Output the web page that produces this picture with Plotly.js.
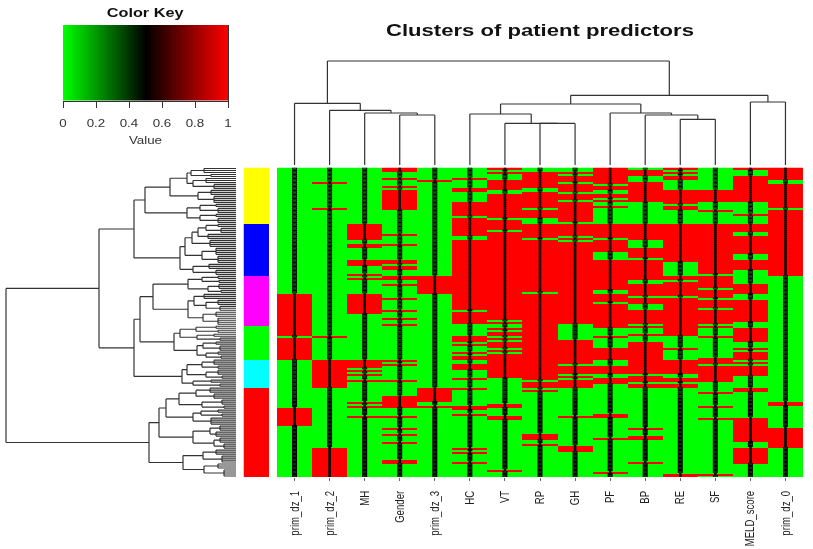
<!DOCTYPE html>
<html>
<head>
<meta charset="utf-8">
<script src="https://cdn.plot.ly/plotly-3.0.1.min.js"></script>
<style>
html,body{margin:0;padding:0;background:#fff;overflow:hidden}
#chart{width:813px;height:549px;filter:blur(0.4px)}
</style>
</head>
<body>
<div id="chart"></div>
<script>
// Number of patients (rows) and predictors (columns), top to bottom, left to right
const rowCount = 155;
const predictors = ['prim_dz_1','prim_dz_2','MH','Gender','prim_dz_3','HC','VT','RP','GH','PF','BP','RE','SF','MELD_score','prim_dz_0'];

// Each predictor: the [first,last) patient rows whose value is 1 (red); every other row is 0 (green)
const prim_dz_1 = [[63,84],[85,96],[120,129]];
const prim_dz_2 = [[7,8],[20,21],[84,85],[96,110],[140,155]];
const MH = [[28,36],[38,40],[46,49],[53,54],[55,56],[63,73],[96,100],[101,102],[103,104],[106,107],[117,118],[119,120],[124,125]];
const Gender = [[0,2],[5,6],[9,10],[11,21],[33,34],[38,39],[46,48],[49,51],[54,56],[58,59],[65,66],[71,72],[75,76],[78,79],[96,97],[98,99],[106,107],[114,120],[124,125],[130,131],[133,134],[137,138],[146,148]];
const prim_dz_3 = [[6,7],[54,63],[110,117],[119,120]];
const HC = [[5,6],[10,12],[17,24],[25,34],[36,71],[72,78],[84,87],[88,89],[92,93],[94,96],[98,101],[105,106],[110,111],[119,121],[123,124],[140,141],[142,143],[147,148]];
const VT = [[0,1],[2,3],[6,11],[13,25],[26,31],[32,76],[77,78],[80,81],[82,84],[85,86],[87,90],[91,92],[93,105],[118,120],[124,126],[151,152]];
const RP = [[2,10],[12,20],[21,25],[28,35],[36,62],[63,106],[107,110],[111,112],[133,136],[138,139]];
const GH = [[2,3],[4,7],[8,12],[13,16],[17,27],[28,34],[35,36],[37,78],[86,98],[99,103],[104,105],[106,110],[124,125],[139,142]];
const PF = [[0,8],[9,11],[13,15],[16,17],[19,20],[28,35],[36,42],[46,61],[63,67],[68,80],[84,85],[90,96],[99,103],[105,108],[123,125],[135,136],[152,153]];
const BP = [[1,4],[7,17],[28,36],[40,45],[46,56],[58,64],[65,68],[71,78],[79,80],[83,84],[87,103],[104,107],[108,110],[130,131],[134,136],[147,148]];
const RE = [[0,1],[2,3],[4,6],[11,18],[19,21],[28,47],[54,56],[57,64],[65,84],[90,91],[96,103],[105,107],[108,110],[153,155]];
const SF = [[11,17],[21,22],[28,53],[54,60],[61,65],[66,70],[71,78],[79,80],[84,85],[95,98],[99,107],[112,113],[119,120],[125,126],[153,154]];
const MELD_score = [[0,1],[4,17],[23,24],[28,32],[34,43],[46,51],[58,63],[66,77],[80,87],[90,91],[92,96],[97,98],[99,104],[110,112],[125,137],[140,148]];
const prim_dz_0 = [[0,6],[8,20],[21,54],[117,119],[130,140]];
const redRuns = [prim_dz_1,prim_dz_2,MH,Gender,prim_dz_3,HC,VT,RP,GH,PF,BP,RE,SF,MELD_score,prim_dz_0];

// Patient clusters down the side bar
const clusterSizes = [28,26,25,17,14,45];
const clusterColors = ['#ffff00','#0000ff','#ff00ff','#00ff00','#00ffff','#ff0000'];

// Dendrograms: [merge height, child, child]; a number child is that many leaves hanging from the node
const yellowTree = [91,[66,[49,[45,[32,3],[25,2]],[43,[30,3],[22,3]]],[38,[25,3],[22,4]]],[49,[36,[20,2],[18,3]],[36,[20,2],[18,3]]]];
const blueTree = [56,[51,[44,[38,[30,[18,2],[15,3]],[28,3]],[26,4]],[34,[20,4],[18,4]]],[43,[27,3],[20,3]]];
const magentaTree = [83,[48,[34,[18,2],[17,2]],[28,[17,3],[15,2]]],[48,[42,[32,3],[30,[18,3],[16,3]]],[33,[20,3],[18,4]]]];
const greenTree = [62,[56,[40,[20,2],[18,2]],[39,[22,2],[16,2]]],[39,[33,[20,2],[16,3]],[30,[18,2],[15,2]]]];
const cyanTree = [54,[49,[34,[22,3],[18,2]],[30,[18,3],[14,2]]],[43,[25,2],[16,2]]];
const redTree = [87,[77,[70,[57,[40,[26,3],[22,3]],[34,[14,3],[12,2]]],[43,[35,[18,2],[14,2]],[25,4]]],[43,[26,[16,3],[20,3]],[22,[16,3],[12,3]]]],[53,[33,[20,3],[14,4]],[32,[18,3],[12,4]]]];
const rowTree = [230,[137,[102,yellowTree,blueTree],[102,[96,magentaTree,greenTree],cyanTree]],redTree];
const columnTree = [104,[61.7,1,[54.7,1,[52,1,[50,1,1]]]],[69.7,[61,[51,1,[41.7,1,[41.6,1,1]]],[52,1,[50,1,[45.7,1,1]]]],[63,1,1]]];

// Colour key
const keyTicks = [0,0.2,0.4,0.6,0.8,1];
const keyTickText = ['0','0.2','0.4','0.6','0.8','1'];
const keyColors = [[0,'#00ff00'],[0.5,'#000000'],[1,'#ff0000']];

// ---- build ----
const rows = Array.from({length:rowCount},(_,r)=>r+0.5);
const cols = predictors.map((_,i)=>i);
const z = rows.map((_,r)=>redRuns.map(runs=>runs.some(([a,b])=>r>=a&&r<b)?1:0));

const clusterRow = [];
clusterSizes.forEach((n,k)=>{for(let i=0;i<n;i++)clusterRow.push([k]);});
const clusterScale = [];
clusterColors.forEach((c,k)=>{const m=clusterColors.length;clusterScale.push([k/m,c],[(k+1)/m,c]);});

function dendro(tree){
  const hs=[],ps=[];let cursor=0;
  const seg=(h0,p0,h1,p1)=>{hs.push(h0,h1,null);ps.push(p0,p1,null);};
  (function walk(node){
    const h=node[0];const at=[];
    node.slice(1).forEach(k=>{
      if(typeof k==='number'){
        for(let i=0;i<k;i++){const p=cursor+0.5;cursor++;seg(0,p,h,p);at.push(p);}
      }else{
        const r=walk(k);seg(r.h,r.p,h,r.p);at.push(r.p);
      }
    });
    const lo=Math.min(...at),hi=Math.max(...at);
    seg(h,lo,h,hi);
    return {h,p:(lo+hi)/2};
  })(tree);
  return {hs,ps};
}
const rowD = dendro(rowTree), colD = dendro(columnTree);

// the column trace: a dark band through each column, wider over the rows whose value is 0
const colPx = 526/15;
const bandX=[],bandY=[],dashX=[],dashY=[];
cols.forEach(c=>{
  rows.forEach((y,r)=>{
    const v=z[r][c];
    const hw=(v?1.3:2.5)/colPx;
    bandX.push(c-hw,c+hw,null);bandY.push(y,y,null);
    if(!v&&r%2===0){const d=1.6/colPx;dashX.push(c-d,c+d,null);dashY.push(y,y,null);}
  });
});

const keyX = Array.from({length:101},(_,i)=>i/100);

const W=813,H=549;
const xd=(a,b)=>[a/W,b/W], yd=(a,b)=>[1-b/H,1-a/H];
const hidden=(o)=>Object.assign({visible:false,fixedrange:true},o);
const lineStyle={color:'#333',width:1.2};

const data=[
 {type:'heatmap',x:cols,y:rows,z:z,xaxis:'x',yaxis:'y',colorscale:keyColors,zmin:0,zmax:1,showscale:false,hoverinfo:'skip'},
 {type:'scatter',mode:'lines',x:bandX,y:bandY,xaxis:'x',yaxis:'y',line:{color:'#000',width:2},hoverinfo:'skip',showlegend:false},
 {type:'scatter',mode:'lines',x:dashX,y:dashY,xaxis:'x',yaxis:'y',line:{color:'#0a9a0a',width:0.7},hoverinfo:'skip',showlegend:false},
 {type:'heatmap',x:[0],y:rows,z:clusterRow,xaxis:'x2',yaxis:'y2',colorscale:clusterScale,zmin:0,zmax:clusterColors.length-1e-6,showscale:false,hoverinfo:'skip'},
 {type:'scatter',mode:'lines',x:rowD.hs,y:rowD.ps,xaxis:'x3',yaxis:'y3',line:lineStyle,hoverinfo:'skip',showlegend:false},
 {type:'scatter',mode:'lines',x:colD.ps.map(p=>p===null?null:p-0.5),y:colD.hs,xaxis:'x4',yaxis:'y4',line:lineStyle,hoverinfo:'skip',showlegend:false},
 {type:'heatmap',x:keyX,y:[0],z:[keyX],xaxis:'x5',yaxis:'y5',colorscale:keyColors,zmin:0,zmax:1,showscale:false,hoverinfo:'skip'}
];

const layout={
 width:W,height:H,margin:{l:0,r:0,t:0,b:0},paper_bgcolor:'#fff',plot_bgcolor:'#fff',showlegend:false,
 font:{family:'"Liberation Sans",Arial,sans-serif',color:'#222'},
 title:{text:'<b>Clusters of patient predictors</b>',x:540/W,xanchor:'center',y:1-30/H,yanchor:'middle',font:{size:17.4,color:'#111'}},
 xaxis:{domain:xd(277,803),range:[-0.5,14.5],tickmode:'array',tickvals:cols,ticktext:predictors,tickangle:-90,ticks:'outside',ticklen:3,tickcolor:'#666',tickwidth:1,tickfont:{size:9.6,color:'#222'},showgrid:false,zeroline:false,showline:false,ticklabelstandoff:6,fixedrange:true},
 yaxis:{domain:yd(167.5,477),range:[rowCount,0],visible:false,fixedrange:true},
 xaxis2:hidden({domain:xd(243.5,269),range:[-0.5,0.5],anchor:'y2'}),
 yaxis2:hidden({domain:yd(167.5,477),range:[rowCount,0],anchor:'x2'}),
 xaxis3:hidden({domain:xd(0,236),range:[236,0],anchor:'y3'}),
 yaxis3:hidden({domain:yd(167.5,477),range:[rowCount,0],anchor:'x3'}),
 xaxis4:hidden({domain:xd(277,803),range:[-0.5,14.5],anchor:'y4'}),
 yaxis4:hidden({domain:yd(60,165),range:[0,105],anchor:'x4'}),
 xaxis5:{domain:xd(63,228),range:[0,1],anchor:'y5',tickmode:'array',tickvals:keyTicks,ticktext:keyTickText,ticks:'outside',ticklen:6,tickcolor:'#333',tickwidth:1,tickfont:{size:10.5,color:'#333'},showgrid:false,zeroline:false,showline:true,linecolor:'#333',linewidth:1,ticklabelstandoff:7,fixedrange:true,title:{text:'Value',standoff:8,font:{size:10.5,color:'#333'}}},
 yaxis5:{domain:yd(25,100.5),range:[-0.5,0.5],anchor:'x5',showgrid:false,zeroline:false,showticklabels:false,ticks:'',fixedrange:true,showline:true,side:'right',linecolor:'#333',linewidth:1},
 annotations:[{xref:'paper',yref:'paper',x:145/W,y:1-13/H,xanchor:'center',yanchor:'middle',showarrow:false,text:'<b>Color Key</b>',font:{size:12.8,color:'#111'}}]
};

const gd=document.getElementById('chart');
Plotly.newPlot(gd,data,layout,{displayModeBar:false,staticPlot:true}).then(()=>{
  // the source picture is stretched horizontally: widen the text the same way
  const sx=1.27;
  gd.querySelectorAll('.gtitle,.annotation-text,.xaxislayer-above text,.x5title').forEach(el=>{
    const b=el.getBoundingClientRect();
    const m=el.parentNode.getScreenCTM().inverse();
    const cx=(b.left+b.width/2)*m.a+m.e;
    el.setAttribute('transform',`translate(${cx} 0) scale(${sx} 1) translate(${-cx} 0) ${el.getAttribute('transform')||''}`);
  });
});
</script>
</body>
</html>
